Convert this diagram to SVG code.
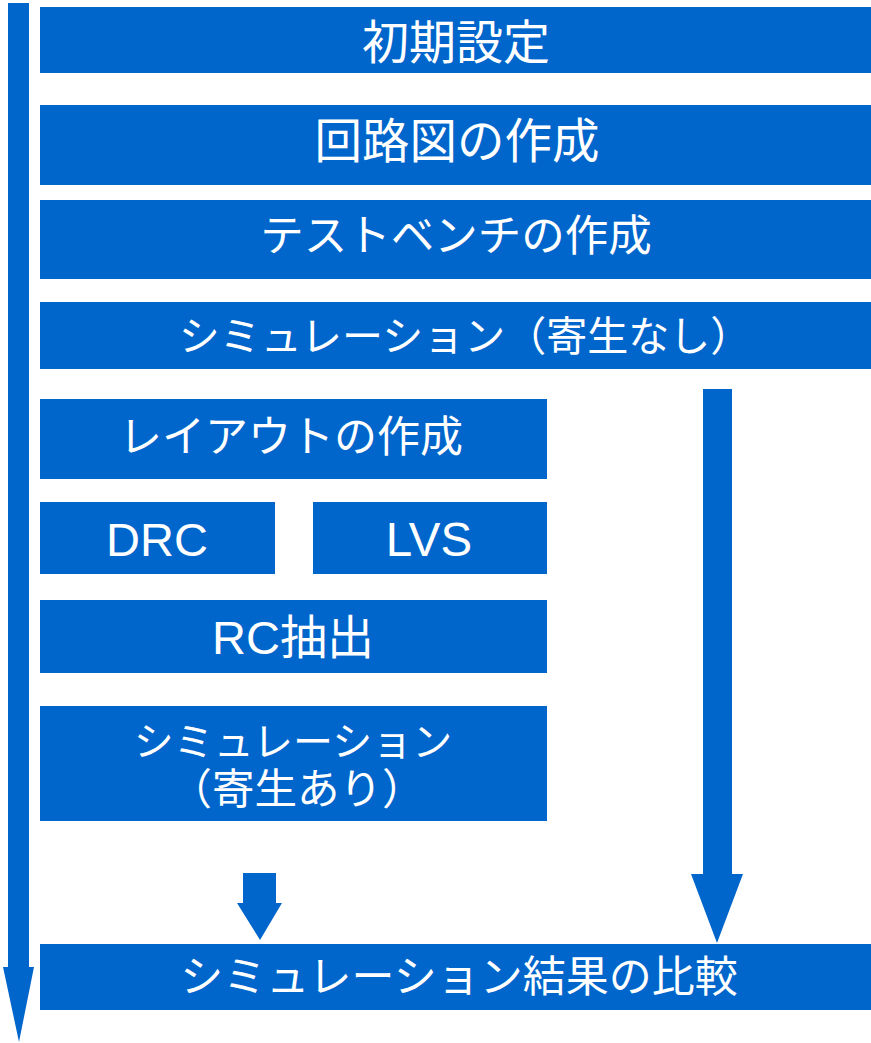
<svg xmlns="http://www.w3.org/2000/svg" width="871" height="1043" viewBox="0 0 871 1043">
<style>
.box{fill:#0066CC;}
.arr{fill:#0066CC;}
text{fill:#FFFFFF;font-family:"Liberation Sans","Noto Sans CJK JP",sans-serif;text-anchor:middle;dominant-baseline:central;}
</style>
<rect width="871" height="1043" fill="#FFFFFF"/>
<g id="connectors">
<polygon class="arr" points="8,3 29,3 29,967 34,967 19,1042 3,967 8,967"/>
<polygon class="arr" points="243,873 276,873 276,903 282,903 260,940 237,903 243,903"/>
<polygon class="arr" points="703,389 732,389 732,874 743,874 717,943 691,874 703,874"/>
</g>
<g id="n1"><rect class="box" x="40" y="7" width="831" height="66"/><text x="456" y="42" font-size="47">初期設定</text></g>
<g id="n2"><rect class="box" x="40" y="105" width="831" height="80"/><text x="457" y="141" font-size="47.5">回路図の作成</text></g>
<g id="n3"><rect class="box" x="40" y="200" width="831" height="79"/><text x="456" y="236" font-size="43.5">テストベンチの作成</text></g>
<g id="n4"><rect class="box" x="40" y="302" width="831" height="67"/><text x="465" y="337" font-size="41">シミュレーション（寄生なし）</text></g>
<g id="n5"><rect class="box" x="40" y="399" width="507" height="80"/><text x="291" y="437" font-size="43">レイアウトの作成</text></g>
<g id="n6"><rect class="box" x="40" y="502" width="235" height="72"/><text x="157" y="539" font-size="47">DRC</text></g>
<g id="n7"><rect class="box" x="313" y="502" width="234" height="72"/><text x="429" y="539" font-size="47.5">LVS</text></g>
<g id="n8"><rect class="box" x="40" y="600" width="507" height="73"/><text x="293" y="637" font-size="47">RC抽出</text></g>
<g id="n9"><rect class="box" x="40" y="706" width="507" height="115"/><text x="293" y="742" font-size="40">シミュレーション</text><text x="297" y="789" font-size="42.5">（寄生あり）</text></g>
<g id="n10"><rect class="box" x="40" y="944" width="831" height="66"/><text x="459" y="977" font-size="43">シミュレーション結果の比較</text></g>
</svg>
